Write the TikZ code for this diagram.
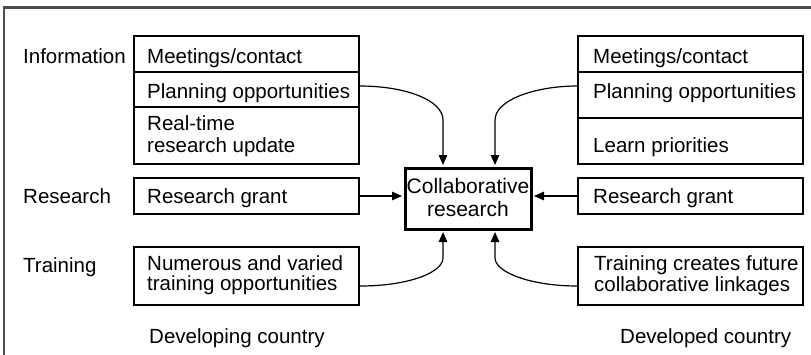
\documentclass[tikz,border=0pt]{standalone}
\usepackage{fontspec}
\setmainfont{Liberation Sans}
\usetikzlibrary{arrows.meta,calc}
\begin{document}
\begin{tikzpicture}[x=1pt,y=-1pt,
  cell/.style={draw, line width=1.2pt, inner sep=0pt, minimum width=225pt},
  txt/.style={inner sep=0pt, anchor=base west, font=\fontsize{20.5}{24}\selectfont},
  ctxt/.style={inner sep=0pt, anchor=base, font=\fontsize{21}{24}\selectfont},
  link/.style={line width=1.2pt, shorten >=1.5pt, -{Triangle[length=10pt,width=8.5pt]}},
]
\useasboundingbox (0,0) rectangle (811,354);
% open frame: top and left sides
\draw[line width=2.5pt, draw=black!70, line join=miter] (4,360) -- (4,7.5) -- (820,7.5);

% row labels
\node[txt] (labInfo) at (23,63) {Information};
\node[txt] (labRes) at (23,203) {Research};
\node[txt] (labTrain) at (23,272) {Training};

% developing country column
\node[cell, minimum height=36pt] (lmeet) at (246.5,54) {};
\node[cell, minimum height=35pt] (lplan) at (246.5,89.5) {};
\node[cell, minimum height=57pt] (lreal) at (246.5,135.5) {};
\node[cell, minimum height=36pt] (lgrant) at (246.5,196) {};
\node[cell, minimum height=58pt] (ltrain) at (246.5,276) {};
\node[txt] (tlmeet) at (147,63) {Meetings/contact};
\node[txt] (tlplan) at (147,98) {Planning opportunities};
\node[txt] (tlreal1) at (147,130) {Real-time};
\node[txt] (tlreal2) at (147,152) {research update};
\node[txt] (tltrain1) at (147,270) {Numerous and varied};
\node[txt] (tltrain2) at (147,290) {training opportunities};
\node[txt] (tlgrant) at (147,203) {Research grant};
\node[txt] (capL) at (149,343) {Developing country};

% developed country column
\node[cell, minimum height=36pt] (rmeet) at (690.5,54) {};
\node[cell, minimum height=46pt] (rplan) at (690.5,95) {};
\node[cell, minimum height=46pt] (rlearn) at (690.5,141) {};
\node[cell, minimum height=36pt] (rgrant) at (690.5,196) {};
\node[cell, minimum height=58pt] (rtrain) at (690.5,276) {};
\node[txt] (trmeet) at (593,63) {Meetings/contact};
\node[txt] (trplan) at (593,98) {Planning opportunities};
\node[txt] (trlearn) at (593,152) {Learn priorities};
\node[txt] (trgrant) at (593,203) {Research grant};
\node[txt] (trtrain1) at (594,270) {Training creates future};
\node[txt] (trtrain2) at (594,291) {collaborative linkages};
\node[txt] (capR) at (620,343) {Developed country};

% central box
\node[draw, line width=3pt, inner sep=0pt, minimum width=126pt, minimum height=61pt] (coll) at (468,198.5) {};
\node[ctxt] (tcoll1) at (468,193) {Collaborative};
\node[ctxt] (tcoll2) at (468,216.5) {research};

% connectors
\draw[link] ([yshift=3.5pt]lplan.east) .. controls (405,86) and (443,100) .. (443,120) -- ([xshift=-25pt]coll.north);
\draw[link] ([yshift=9pt]rplan.west) .. controls (535,86) and (495,100) .. (495,120) -- ([xshift=27pt]coll.north);
\draw[link] ([yshift=-10pt]ltrain.east) .. controls (410,286) and (443,272) .. (443,258) -- ([xshift=-25pt]coll.south);
\draw[link] ([yshift=-10pt]rtrain.west) .. controls (530,286) and (495,272) .. (495,258) -- ([xshift=27pt]coll.south);
\draw[link] (lgrant.east) -- (coll.west |- lgrant.east);
\draw[link] (rgrant.west) -- (coll.east |- rgrant.west);
\end{tikzpicture}
\end{document}
